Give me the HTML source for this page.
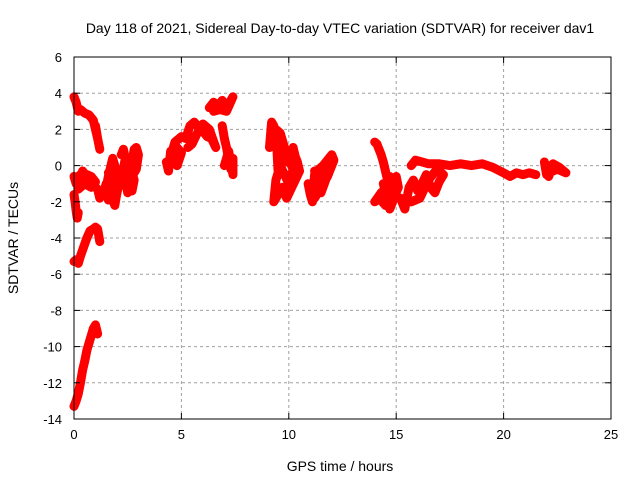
<!DOCTYPE html>
<html><head><meta charset="utf-8"><style>
body{margin:0;background:#fff}
svg{display:block;font-family:"Liberation Sans",sans-serif}
</style></head><body>
<svg id="c" width="640" height="480">
<text x="340" y="33" font-size="14" text-anchor="middle">Day 118 of 2021, Sidereal Day-to-day VTEC variation (SDTVAR) for receiver dav1</text>
<text x="340" y="471" font-size="14" text-anchor="middle">GPS time / hours</text>
<text transform="translate(18,238) rotate(-90)" font-size="14" text-anchor="middle">SDTVAR / TECUs</text>
<g id="grid"></g><g id="marks"></g>
<rect x="74" y="57" width="537" height="362" fill="none" stroke="#000"/>
<g id="ticks"></g>
</svg>
<script>
const xTicks=[0,5,10,15,20,25];
const yTicks=[-14,-12,-10,-8,-6,-4,-2,0,2,4,6];
const trackAx=[0,0.1,0.2,0.3,0.5,0.7,0.9,1.0,1.1,1.2,1.1,1.0];
const trackAy=[3.8,3.5,3.0,3.1,2.9,2.8,2.5,2.0,1.5,0.9,1.5,2.2];
const trackBx=[0,0.1,0.2,0.4,0.6,0.8,1.0,0.8,0.5,0.2,0.4,0.7,1.0,1.1,1.2,1.4,1.5,1.7,1.9,2.0,1.8,1.6];
const trackBy=[-0.6,-1.0,-0.6,-0.4,-0.5,-0.6,-0.9,-1.2,-1.0,-1.3,-0.3,-0.8,-1.2,-1.3,-1.8,-1.4,-1.0,-1.6,-2.2,-1.5,-1.2,-1.9];
const trackCx=[0,0.05,0.1,0.15,0.2];
const trackCy=[-1.6,-2.0,-2.5,-2.9,-2.6];
const trackDx=[0,0.1,0.2,0.3,0.45,0.6,0.75,0.9,1.0,1.1,1.2];
const trackDy=[-5.3,-5.2,-5.4,-5.0,-4.5,-4.0,-3.6,-3.5,-3.4,-3.5,-4.2];
const trackEx=[0,0.1,0.2,0.3,0.4,0.5,0.6,0.7,0.8,0.9,1.0,1.1];
const trackEy=[-13.3,-13.0,-12.6,-12.0,-11.3,-10.8,-10.2,-9.8,-9.4,-9.0,-8.8,-9.3];
const trackFx=[1.5,1.6,1.7,1.8,1.9,2.0,2.1,2.0,1.8,1.6];
const trackFy=[-1.2,-0.6,-0.1,0.4,0.0,-0.5,-1.0,-1.5,-1.0,-0.4];
const trackGx=[2.2,2.3,2.4,2.5,2.6,2.7,2.8,2.9,3.0,2.9,2.7,2.5,2.3,2.4,2.6,2.8,2.7,2.5];
const trackGy=[0.6,0.9,0.3,-0.5,-1.2,0.2,0.9,1.0,0.6,-0.2,-0.6,-1.5,-0.2,0.5,0.0,-0.8,-1.4,-0.4];
const trackHx=[4.3,4.4,4.5,4.6,4.8,5.0,4.8,4.5,4.7,5.0,5.2,5.4,5.6,5.8,6.0,6.2,6.4,6.6,6.3,6.0,5.7,5.5,5.3];
const trackHy=[0.2,-0.3,0.8,0.3,1.0,0.7,0.0,0.5,1.3,1.6,1.5,2.2,2.4,2.1,1.9,1.6,1.5,1.0,2.0,2.3,1.7,1.2,1.0];
const trackIx=[6.3,6.5,6.7,6.9,7.1,7.3,7.4,7.1,6.8,6.5];
const trackIy=[3.2,3.5,3.3,3.6,3.2,3.6,3.8,3.0,3.1,3.0];
const trackJx=[6.9,7.0,7.1,7.2,7.3,7.4,7.4,7.2,7.0];
const trackJy=[2.2,1.5,1.0,0.3,-0.2,0.4,-0.5,0.8,0.0];
const trackKx=[9.1,9.2,9.3,9.4,9.5,9.6,9.7,9.8,9.9,10.0,10.1,10.2,10.3,10.4,10.5,10.3,10.1,9.9,9.7,9.5,9.3,9.4,9.6,9.8,10.0,10.2,9.9,9.6,9.4,9.5];
const trackKy=[1.0,2.4,2.2,1.8,1.2,1.5,1.0,0.5,0.2,0.8,0.6,1.0,0.5,0.2,-0.3,-0.8,-1.3,-1.8,-1.2,-1.6,-2.0,-0.8,0.0,-0.5,-1.0,-0.2,0.6,1.8,2.0,-0.3];
const trackLx=[10.9,11.0,11.1,11.2,11.4,11.6,11.8,12.0,12.1,11.8,11.5,11.2,11.0,11.3,11.6,11.9,11.5,11.2];
const trackLy=[-1.0,-1.6,-2.0,-0.5,-0.2,0.0,0.3,0.6,0.3,-0.6,-1.2,-1.8,-1.2,-0.9,-0.5,-0.2,-1.5,-0.3];
const trackMx=[14.0,14.1,14.2,14.3,14.4,14.5,14.6,14.7,14.8,14.9,15.0,15.1,14.8,14.5,14.2,14.0,14.3,14.6,14.9,14.7,14.4];
const trackMy=[1.3,1.2,0.9,0.6,0.2,-0.3,-0.8,-0.6,-1.0,-0.8,-0.6,-1.2,-2.0,-2.2,-1.8,-2.0,-1.5,-1.2,-1.8,-2.4,-1.0];
const trackNx=[15.2,15.4,15.6,15.8,16.0,16.2,16.4,16.6,16.8,17.0,17.2,16.9,16.5,16.1,15.7];
const trackNy=[-1.8,-2.4,-1.2,-0.8,-1.4,-1.0,-0.5,-1.2,-1.5,-0.9,-0.5,-0.2,-0.8,-1.8,-2.0];
const trackOx=[15.7,15.9,16.2,16.5,17.0,17.5,18.0,18.5,19.0,19.5,20.0,20.3,20.6,20.9,21.2,21.5];
const trackOy=[0.0,0.3,0.2,0.1,0.1,0.0,0.1,0.0,0.1,-0.1,-0.4,-0.6,-0.4,-0.5,-0.4,-0.5];
const trackPx=[21.9,22.0,22.1,22.3,22.5,22.7,22.9,22.6,22.3,22.1];
const trackPy=[0.2,-0.5,0.0,-0.3,-0.2,-0.3,-0.4,-0.1,0.1,-0.6];

const tracks=[[trackAx,trackAy],[trackBx,trackBy],[trackCx,trackCy],[trackDx,trackDy],[trackEx,trackEy],[trackFx,trackFy],[trackGx,trackGy],[trackHx,trackHy],[trackIx,trackIy],[trackJx,trackJy],[trackKx,trackKy],[trackLx,trackLy],[trackMx,trackMy],[trackNx,trackNy],[trackOx,trackOy],[trackPx,trackPy]];
const L=74,R=611,T=57,B=419;
const sx=v=>L+(v-0)/(25-0)*(R-L);
const sy=v=>B-(v-(-14))/(6-(-14))*(B-T);
const NS='http://www.w3.org/2000/svg';
function mk(tag,attrs,parent){const e=document.createElementNS(NS,tag);for(const k in attrs)e.setAttribute(k,attrs[k]);parent.appendChild(e);return e;}
const grid=document.getElementById('grid'),ticks=document.getElementById('ticks'),marks=document.getElementById('marks');
xTicks.forEach(t=>{const x=sx(t);
 if(t>0&&t<25){const g=mk('line',{x1:x,x2:x,y1:T,y2:B,stroke:'#a0a0a0','stroke-dasharray':'3,3'},grid);
 
 }
 mk('line',{x1:x,x2:x,y1:B,y2:B-6,stroke:'#000'},ticks);mk('line',{x1:x,x2:x,y1:T,y2:T+6,stroke:'#000'},ticks);
 const l=mk('text',{x:x,y:B+20,'font-size':13,'text-anchor':'middle'},ticks);l.textContent=t;
 
 });
yTicks.forEach(t=>{const y=sy(t);
 if(t>-14&&t<6){const g=mk('line',{x1:L,x2:R,y1:y,y2:y,stroke:'#a0a0a0','stroke-dasharray':'3,3'},grid);
 
 }
 mk('line',{x1:L,x2:L+6,y1:y,y2:y,stroke:'#000'},ticks);mk('line',{x1:R,x2:R-6,y1:y,y2:y,stroke:'#000'},ticks);
 const l=mk('text',{x:L-12,y:y+5,'font-size':13,'text-anchor':'end'},ticks);l.textContent=t;
 
 });
tracks.forEach(([xs,ys])=>{
 const pts=xs.map((x,i)=>sx(x)+','+sy(ys[i])).join(' ');
 const pl=mk('polyline',{points:pts,fill:'none',stroke:'#f00','stroke-width':9,'stroke-linejoin':'round','stroke-linecap':'round'},marks);
 
 
 xs.forEach((x,i)=>{const px=sx(x),py=sy(ys[i]);
  const p=mk('path',{d:`M${px-4},${py}h8M${px},${py-4}v8`,stroke:'#f00','stroke-width':1},marks);
  
  });
});
</script>
</body></html>
